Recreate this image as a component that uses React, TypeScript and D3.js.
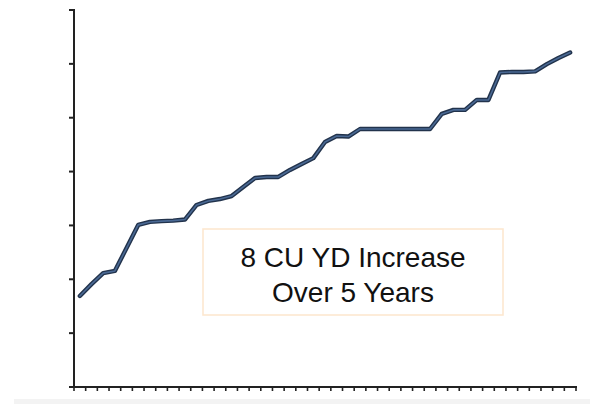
// Volume trend line chart — D3 scales, React-rendered SVG.

import * as d3 from "d3";

const PERIODS = [
  "P1", "P2", "P3", "P4", "P5", "P6", "P7", "P8", "P9", "P10",
  "P11", "P12", "P13", "P14", "P15", "P16", "P17", "P18", "P19", "P20",
  "P21", "P22", "P23", "P24", "P25", "P26", "P27", "P28", "P29", "P30",
  "P31", "P32", "P33", "P34", "P35", "P36", "P37", "P38", "P39", "P40",
  "P41", "P42", "P43",
];

const VOLUME = [
  3.38, 3.82, 4.23, 4.31, 5.16, 6.02, 6.13, 6.16, 6.18, 6.22,
  6.76, 6.91, 6.98, 7.09, 7.43, 7.76, 7.8, 7.8, 8.06, 8.28,
  8.5, 9.1, 9.32, 9.3, 9.58, 9.58, 9.58, 9.58, 9.58, 9.58,
  9.58, 10.14, 10.29, 10.29, 10.66, 10.66, 11.68, 11.7, 11.7, 11.72,
  11.99, 12.22, 12.42,
];

const Y_TICKS = [0, 2, 4, 6, 8, 10, 12, 14];

const CALLOUT = ["8 CU YD Increase", "Over 5 Years"];

const W = 596;
const H = 404;
const PLOT = { left: 74, right: 576, top: 10, bottom: 387 };
const AXIS = "#222222";

export default function App() {
  const x = d3
    .scaleBand<string>()
    .domain(PERIODS)
    .range([PLOT.left, PLOT.right])
    .padding(0);
  const y = d3.scaleLinear().domain([0, 14]).range([PLOT.bottom, PLOT.top]);

  const line = d3
    .line<number>()
    .x((_, i) => (x(PERIODS[i]) ?? 0) + x.bandwidth() / 2)
    .y((d) => y(d));
  const path = line(VOLUME) ?? "";

  // category boundaries for the x ticks
  const xTicks = [...PERIODS.map((p) => x(p) ?? 0), PLOT.right];

  return (
    <svg
      width={W}
      height={H}
      style={{ position: "absolute", left: 0, top: 0, display: "block" }}
      fontFamily="'Liberation Sans', Arial, sans-serif"
    >
      <rect width={W} height={H} fill="#ffffff" />
      <rect x={14} y={399} width={576} height={5} fill="#f3f3f3" />

      {/* callout box */}
      <rect
        x={203}
        y={229}
        width={300}
        height={86}
        fill="#ffffff"
        stroke="#fde8d0"
        strokeWidth={1.6}
      />
      {CALLOUT.map((t, i) => (
        <text
          key={t}
          x={353}
          y={266.5 + i * 35}
          textAnchor="middle"
          fontSize={28}
          fill="#111111"
        >
          {t}
        </text>
      ))}

      {/* y axis */}
      <line x1={PLOT.left} x2={PLOT.left} y1={PLOT.top - 1} y2={PLOT.bottom} stroke={AXIS} strokeWidth={2} />
      {Y_TICKS.map((t) => (
        <line key={t} x1={PLOT.left - 5} x2={PLOT.left} y1={y(t)} y2={y(t)} stroke={AXIS} strokeWidth={2} />
      ))}

      {/* x axis */}
      <line x1={PLOT.left - 5} x2={PLOT.right + 1} y1={PLOT.bottom} y2={PLOT.bottom} stroke={AXIS} strokeWidth={2} />
      {xTicks.map((t, i) => (
        <line key={i} x1={t} x2={t} y1={PLOT.bottom} y2={PLOT.bottom + 4} stroke={AXIS} strokeWidth={1.6} />
      ))}

      {/* trend line */}
      <path d={path} fill="none" stroke="#22334c" strokeWidth={4.4} strokeLinejoin="round" strokeLinecap="round" />
      <path d={path} fill="none" stroke="#4a6994" strokeWidth={1.6} strokeLinejoin="round" strokeLinecap="round" />
    </svg>
  );
}
